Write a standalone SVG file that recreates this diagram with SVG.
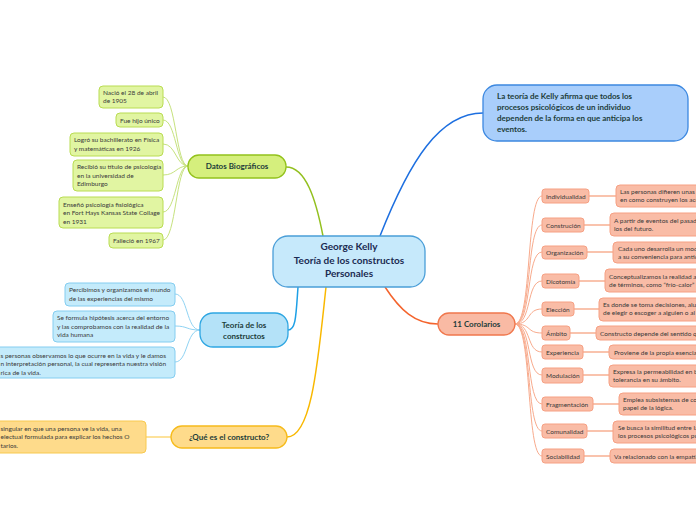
<svg xmlns="http://www.w3.org/2000/svg" width="696" height="520" viewBox="0 0 696 520">
<style>
text{font-family:Lato,"Noto Sans","DejaVu Sans",sans-serif}
.t{font-size:6.5px;fill:#3a3a3a}
.h{font-weight:bold;fill:#1d3d3a;font-size:8px}
.c{font-weight:bold;fill:#1b2b52;font-size:10px}
.gl{fill:#e1f5a2;stroke:#b9dc52;stroke-width:1}
.gm{fill:#d5ef7d;stroke:#93c21c;stroke-width:1.3}
.bl{fill:#c4ebfb;stroke:#84cdf0;stroke-width:1}
.bm{fill:#b4e2f8;stroke:#2ea6e2;stroke-width:1.3}
.yl{fill:#fedb8b;stroke:#f8c94e;stroke-width:1}
.ym{fill:#fedb8b;stroke:#f6bb1c;stroke-width:1.3}
.rl{fill:#f9bca6;stroke:#f6a083;stroke-width:1}
.rm{fill:#f9baa4;stroke:#f0774c;stroke-width:1.3}
.cn{fill:#c6e9fb;stroke:#4a9ed8;stroke-width:1.3}
.pb{fill:#a9cefb;stroke:#3c88e0;stroke-width:1.3}
.k{fill:none}
</style>
<g id="connectors" class="k">
<path d="M323,236 C316,200 306,167 286,167" stroke="#93c01f" stroke-width="1.5" fill="none"/>
<path d="M380,236 C410,160 440,113 483,113" stroke="#1d6fe0" stroke-width="1.5" fill="none"/>
<path d="M298,287 C296,315 296,330 288,330" stroke="#1ea0e6" stroke-width="1.5" fill="none"/>
<path d="M326,287 C318,360 312,437 287,437" stroke="#f9b800" stroke-width="1.5" fill="none"/>
<path d="M385,287 C400,310 415,324 438,324" stroke="#f4642d" stroke-width="1.5" fill="none"/>
<g stroke="#c6e27e" stroke-width="1" fill="none">
<path d="M188,166 C176,166 176,97 163,97"/>
<path d="M188,166 C176,166 176,120 163,120"/>
<path d="M188,166 C176,166 176,144 163,144"/>
<path d="M188,166 C176,166 176,175 163,175"/>
<path d="M188,166 C176,166 176,212 163,212"/>
<path d="M188,166 C176,166 176,240 163,240"/>
</g>
<g stroke="#8fd3f3" stroke-width="1" fill="none">
<path d="M200,330 C186,330 188,294 175,294"/>
<path d="M200,330 C186,330 188,326 175,326"/>
<path d="M200,330 C186,330 188,362 175,362"/>
</g>
<path d="M171,437 L146,437" stroke="#fdd97a" stroke-width="1.5" fill="none"/>
<g stroke="#f8aa8c" stroke-width="1" fill="none">
<path d="M515,324 C532,324 526,196 542,196"/>
<path d="M515,324 C532,324 526,225 542,225"/>
<path d="M515,324 C532,324 526,252 542,252"/>
<path d="M515,324 C532,324 526,281 542,281"/>
<path d="M515,324 C532,324 526,309 542,309"/>
<path d="M515,324 C532,324 526,333 542,333"/>
<path d="M515,324 C532,324 526,352 542,352"/>
<path d="M515,324 C532,324 526,375 542,375"/>
<path d="M515,324 C532,324 526,404 542,404"/>
<path d="M515,324 C532,324 526,431 542,431"/>
<path d="M515,324 C532,324 526,456 542,456"/>
</g>
<g stroke="#f9c3ad" stroke-width="2" fill="none">
<path d="M589,196 L616,196"/>
<path d="M584,225 L610,225"/>
<path d="M587,252 L613,252"/>
<path d="M579,281 L605,281"/>
<path d="M574,309 L599,309"/>
<path d="M570,333 L596,333"/>
<path d="M583,352 L609,352"/>
<path d="M583,375 L609,375"/>
<path d="M593,404 L619,404"/>
<path d="M587,431 L613,431"/>
<path d="M584,456 L610,456"/>
</g>
</g>
<g id="central">
<rect class="cn" x="273" y="236" width="152" height="51" rx="15"/>
<text class="c" x="349" y="250" text-anchor="middle">George Kelly</text>
<text class="c" x="349" y="264" text-anchor="middle">Teoría de los constructos</text>
<text class="c" x="349" y="277" text-anchor="middle">Personales</text>
</g>
<g id="teoria-kelly">
<rect class="pb" x="483" y="85" width="205" height="56" rx="14"/>
<text class="h" x="497" y="99">La teoría de Kelly afirma que todos los</text>
<text class="h" x="497" y="110">procesos psicológicos de un individuo</text>
<text class="h" x="497" y="121">dependen de la forma en que anticipa los</text>
<text class="h" x="497" y="132">eventos.</text>
</g>
<g id="datos">
<rect class="gm" x="188" y="155" width="98" height="23" rx="11"/>
<text class="h" x="237" y="169" text-anchor="middle">Datos Biográficos</text>
</g>
<g id="d1"><rect class="gl" x="99" y="86" width="64" height="22" rx="4"/><text class="t" x="103" y="94.5">Nació el 28 de abril</text><text class="t" x="103" y="102.5">de 1905</text></g>
<g id="d2"><rect class="gl" x="116" y="113" width="47" height="14" rx="4"/><text class="t" x="120" y="122.5">Fue hijo único</text></g>
<g id="d3"><rect class="gl" x="70" y="133" width="93" height="23" rx="4"/><text class="t" x="74" y="142">Logró su bachillerato en Física</text><text class="t" x="74" y="150.5">y matemáticas en 1926</text></g>
<g id="d4"><rect class="gl" x="73" y="160" width="90" height="31" rx="4"/><text class="t" x="77" y="169">Recibió su título de psicología</text><text class="t" x="77" y="177.5">en la universidad de</text><text class="t" x="77" y="186">Edimburgo</text></g>
<g id="d5"><rect class="gl" x="59" y="197" width="104" height="31" rx="4"/><text class="t" x="63" y="206.5">Enseñó psicología fisiológica</text><text class="t" x="63" y="215">en Fort Hays Kansas State Collage</text><text class="t" x="63" y="223.5">en 1931</text></g>
<g id="d6"><rect class="gl" x="109" y="233" width="54" height="15" rx="4"/><text class="t" x="113" y="242.5">Falleció en 1967</text></g>
<g id="teoria">
<rect class="bm" x="200" y="313" width="88" height="34" rx="13"/>
<text class="h" x="244" y="328" text-anchor="middle">Teoría de los</text>
<text class="h" x="244" y="339" text-anchor="middle">constructos</text>
</g>
<g id="t1"><rect class="bl" x="65" y="283" width="110" height="23" rx="4"/><text class="t" x="69" y="292">Percibimos y organizamos el mundo</text><text class="t" x="69" y="300.5">de las experiencias del mismo</text></g>
<g id="t2"><rect class="bl" x="53" y="311" width="122" height="31" rx="4"/><text class="t" x="57" y="320">Se formula hipótesis acerca del entorno</text><text class="t" x="57" y="328.5">y las comprobamos con la realidad de la</text><text class="t" x="57" y="337">vida humana</text></g>
<g id="t3"><rect class="bl" x="-10" y="347" width="185" height="31" rx="4"/><text class="t" x="0.5" y="357.5">s personas observamos lo que ocurre en la vida y le damos</text><text class="t" x="0.5" y="366">n interpretación personal, la cual representa nuestra visión</text><text class="t" x="0.5" y="374.5">rica de la vida.</text></g>
<g id="que">
<rect class="ym" x="171" y="426" width="116" height="22" rx="11"/>
<text class="h" x="229" y="440" text-anchor="middle">¿Qué es el constructo?</text>
</g>
<g id="q1"><rect class="yl" x="-10" y="421" width="156" height="32" rx="4"/><text class="t" x="0.5" y="430.5">singular en que una persona ve la vida, una</text><text class="t" x="0.5" y="439">electual formulada para explicar los hechos O</text><text class="t" x="0.5" y="447.5">tarios.</text></g>
<g id="corolarios">
<rect class="rm" x="438" y="313" width="77" height="22" rx="11"/>
<text class="h" x="476.5" y="327" text-anchor="middle">11 Corolarios</text>
</g>
<g id="c1"><rect class="rl" x="542" y="189" width="47" height="14" rx="3"/><text class="t" x="546" y="198.5">Individualidad</text></g>
<g id="c1d"><rect class="rl" x="616" y="185" width="90" height="22" rx="4"/><text class="t" x="620" y="194">Las personas difieren unas s</text><text class="t" x="620" y="202">en como construyen los acc</text></g>
<g id="c2"><rect class="rl" x="542" y="218" width="42" height="14" rx="3"/><text class="t" x="546" y="227.5">Construción</text></g>
<g id="c2d"><rect class="rl" x="610" y="213" width="96" height="23" rx="4"/><text class="t" x="614" y="222.5">A partir de eventos del pasad</text><text class="t" x="614" y="230.5">los del futuro.</text></g>
<g id="c3"><rect class="rl" x="542" y="246" width="45" height="13" rx="3"/><text class="t" x="546" y="255">Organización</text></g>
<g id="c3d"><rect class="rl" x="613" y="242" width="93" height="21" rx="4"/><text class="t" x="618" y="250.5">Cada uno desarrolla un mod</text><text class="t" x="618" y="258.5">a su conveniencia para antic</text></g>
<g id="c4"><rect class="rl" x="542" y="274" width="37" height="14" rx="3"/><text class="t" x="546" y="283.5">Dicotomía</text></g>
<g id="c4d"><rect class="rl" x="605" y="269" width="101" height="23" rx="4"/><text class="t" x="609" y="278.5">Conceptualizamos la realidad a</text><text class="t" x="609" y="286.5">de términos, como “frío-calor” </text></g>
<g id="c5"><rect class="rl" x="542" y="302" width="32" height="14" rx="3"/><text class="t" x="546" y="311.5">Elección</text></g>
<g id="c5d"><rect class="rl" x="599" y="298" width="107" height="23" rx="4"/><text class="t" x="603" y="307">Es donde se toma decisiones, alu</text><text class="t" x="603" y="315">de elegir o escoger a alguien o al</text></g>
<g id="c6"><rect class="rl" x="542" y="326" width="28" height="14" rx="3"/><text class="t" x="546" y="335.5">Ámbito</text></g>
<g id="c6d"><rect class="rl" x="596" y="326" width="110" height="14" rx="4"/><text class="t" x="600" y="335.5">Constructo depende del sentido qu</text></g>
<g id="c7"><rect class="rl" x="542" y="345" width="41" height="14" rx="3"/><text class="t" x="546" y="354.5">Experiencia</text></g>
<g id="c7d"><rect class="rl" x="609" y="345" width="97" height="14" rx="4"/><text class="t" x="614" y="354.5">Proviene de la propia esencia</text></g>
<g id="c8"><rect class="rl" x="542" y="368" width="41" height="15" rx="3"/><text class="t" x="546" y="377.5">Modulación</text></g>
<g id="c8d"><rect class="rl" x="609" y="365" width="97" height="22" rx="4"/><text class="t" x="613" y="374">Expresa la permeabilidad en b</text><text class="t" x="613" y="382">tolerancia en su ámbito.</text></g>
<g id="c9"><rect class="rl" x="542" y="397" width="51" height="14" rx="3"/><text class="t" x="546" y="406.5">Fragmentación</text></g>
<g id="c9d"><rect class="rl" x="619" y="393" width="87" height="22" rx="4"/><text class="t" x="623" y="401.5">Emplea subsistemas de co</text><text class="t" x="623" y="409.5">papel de la lógica.</text></g>
<g id="c10"><rect class="rl" x="542" y="424" width="45" height="14" rx="3"/><text class="t" x="546" y="433.5">Comunalidad</text></g>
<g id="c10d"><rect class="rl" x="613" y="421" width="93" height="22" rx="4"/><text class="t" x="618" y="430">Se busca la similitud entre la</text><text class="t" x="618" y="438">los procesos psicológicos pu</text></g>
<g id="c11"><rect class="rl" x="542" y="449" width="42" height="14" rx="3"/><text class="t" x="546" y="458.5">Sociabilidad</text></g>
<g id="c11d"><rect class="rl" x="610" y="449" width="96" height="14" rx="4"/><text class="t" x="614" y="458.5">Va relacionado con la empatía</text></g>
</svg>
